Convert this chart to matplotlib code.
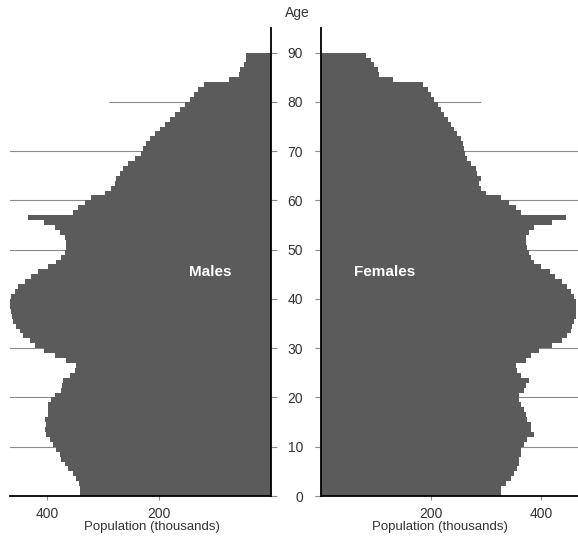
import matplotlib
matplotlib.use("Agg")
import matplotlib.pyplot as plt

plt.rcParams['font.family'] = ['Liberation Sans', 'DejaVu Sans']

# population by single year of age (thousands), ages 0..89 (top bar = 90+)
ages = list(range(90))
males = [341, 341, 343, 348, 354, 362, 368, 375, 377, 384,
         389, 395, 402, 404, 402, 404, 398, 398, 398, 392,
         386, 375, 373, 371, 359, 350, 348, 366, 386, 405,
         421, 430, 443, 448, 455, 461, 462, 464, 466, 466,
         464, 457, 452, 440, 428, 416, 398, 384, 375, 368,
         366, 366, 368, 377, 386, 405, 434, 354, 345, 332,
         321, 296, 285, 279, 277, 270, 264, 255, 243, 232,
         229, 223, 216, 207, 198, 189, 180, 171, 163, 154,
         145, 138, 130, 120, 75, 57, 55, 48, 45, 45]
females = [327, 327, 336, 345, 351, 357, 360, 360, 363, 363,
           369, 375, 387, 381, 381, 375, 372, 369, 363, 360,
           360, 369, 372, 378, 363, 356, 354, 372, 381, 396,
           420, 438, 447, 454, 457, 460, 463, 463, 463, 463,
           460, 454, 447, 438, 426, 417, 400, 387, 381, 378,
           375, 372, 372, 378, 387, 420, 445, 363, 354, 342,
           327, 299, 290, 288, 290, 284, 281, 272, 266, 262,
           260, 258, 254, 248, 242, 236, 230, 224, 218, 212,
           206, 200, 194, 186, 130, 106, 103, 97, 91, 82]

age_ticks = [0, 10, 20, 30, 40, 50, 60, 70, 80, 90]
grid_ages = [10, 20, 30, 50, 60, 70]
pop_ticks = [200, 400]

bar_color = '#5b5b5b'
grid_color = '#8a8a8a'
text_color = '#333333'

W, H = 578, 536
fig = plt.figure(figsize=(W / 100, H / 100), dpi=100)


def rect(x0, x1, ytop, ybot):
    return [x0 / W, 1 - ybot / H, (x1 - x0) / W, (ybot - ytop) / H]


axL = fig.add_axes(rect(10, 271, 28, 496))
axR = fig.add_axes(rect(321, 578, 28, 496))

for ax, vals in ((axL, males), (axR, females)):
    ax.barh(ages, vals, height=1.0, align='edge', color=bar_color,
            linewidth=0, zorder=2)
    ax.hlines(grid_ages, 0, 500, color=grid_color, linewidth=0.8, zorder=1)
    ax.hlines(80, 0, 290, color=grid_color, linewidth=0.8, zorder=1)
    ax.set_ylim(0, 95)
    ax.set_xticks(pop_ticks)
    ax.set_yticks(age_ticks)
    ax.spines['top'].set_visible(False)
    for s in ('left', 'right', 'bottom'):
        ax.spines[s].set_linewidth(1.3)
    ax.tick_params(axis='x', direction='out', length=3, width=0.8,
                   colors=grid_color, labelcolor=text_color, labelsize=10, pad=5)
    ax.tick_params(axis='y', direction='out', length=4, width=0.8,
                   colors=grid_color, labelcolor=text_color, labelsize=10)
    ax.set_xlabel('Population (thousands)', fontsize=9.5, color=text_color)

axL.set_xlim(466, 0)
axL.spines['left'].set_visible(False)
axL.yaxis.tick_right()
axL.tick_params(axis='y', labelright=False)
axL.xaxis.set_label_coords(0.544, -0.053)
axL.text(109, 45.4, 'Males', color='white', fontsize=11, fontweight='bold',
         ha='center', va='center', zorder=3)

axR.set_xlim(0, 467)
axR.spines['right'].set_visible(False)
axR.tick_params(axis='y', pad=9)
axR.xaxis.set_label_coords(0.463, -0.053)
axR.text(115, 45.4, 'Females', color='white', fontsize=11, fontweight='bold',
         ha='center', va='center', zorder=3)

fig.text(297 / W, 1 - 13 / H, 'Age', ha='center', va='center',
         fontsize=10, color=text_color)

fig.savefig('out.png', dpi=100)
